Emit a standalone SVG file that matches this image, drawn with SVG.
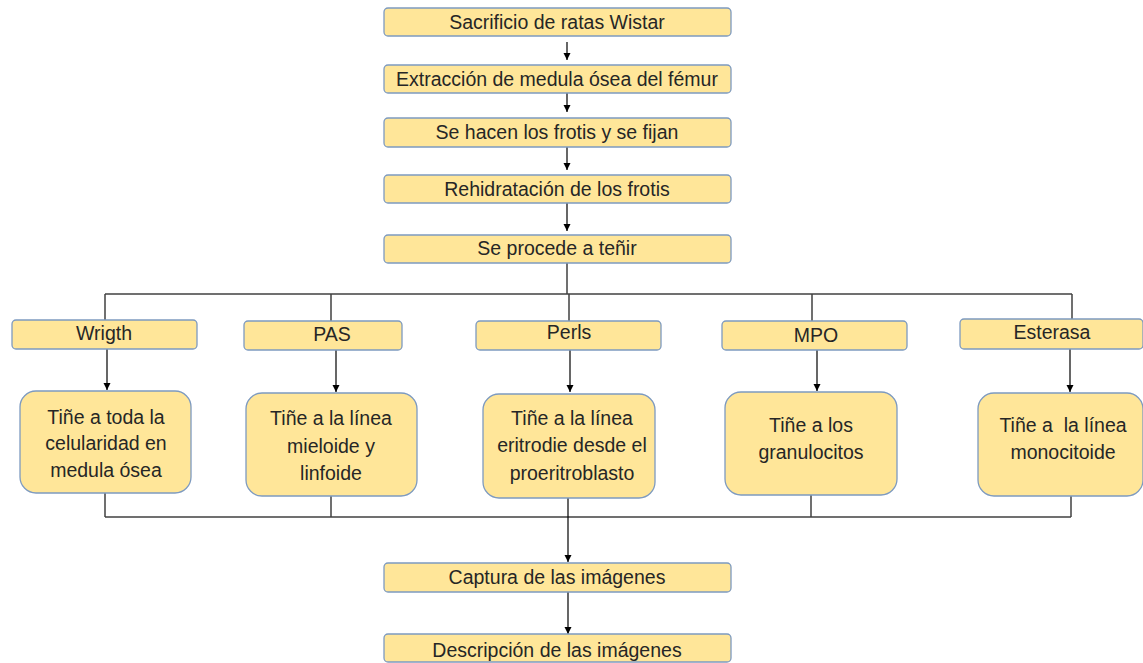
<svg xmlns="http://www.w3.org/2000/svg" width="1143" height="663" viewBox="0 0 1143 663">
<defs>
<marker id="ah" markerWidth="8" markerHeight="8" refX="7" refY="4" orient="auto" markerUnits="userSpaceOnUse">
<path d="M0,0.5 L7,4 L0,7.5 Z" fill="#000"/>
</marker>
<style>
.b{fill:#FFE699;stroke:#7D9AC0;stroke-width:1.3}
.t{font-family:"Liberation Sans",Arial,sans-serif;font-size:19.5px;fill:#262626;text-anchor:middle;white-space:pre}
.c{fill:none;stroke:#000;stroke-width:1.2}
.bus{fill:none;stroke:#404040;stroke-width:1.5}
</style>
</defs>
<rect width="1143" height="663" fill="#fff"/>
<g id="connectors">
<line class="c" x1="567" y1="42" x2="567" y2="60" marker-end="url(#ah)"/>
<line class="c" x1="567" y1="93" x2="567" y2="112" marker-end="url(#ah)"/>
<line class="c" x1="567" y1="147" x2="567" y2="170" marker-end="url(#ah)"/>
<line class="c" x1="567" y1="203" x2="567" y2="231" marker-end="url(#ah)"/>
<line class="bus" x1="567" y1="263" x2="567" y2="294"/>
<line class="bus" x1="105" y1="294" x2="1072" y2="294"/>
<line class="bus" x1="105" y1="294" x2="105" y2="320"/>
<line class="bus" x1="331" y1="294" x2="331" y2="321"/>
<line class="bus" x1="569" y1="294" x2="569" y2="321"/>
<line class="bus" x1="812" y1="294" x2="812" y2="321"/>
<line class="bus" x1="1072" y1="294" x2="1072" y2="319"/>
<line class="c" x1="107" y1="349" x2="107" y2="390" marker-end="url(#ah)"/>
<line class="c" x1="336" y1="350" x2="336" y2="392" marker-end="url(#ah)"/>
<line class="c" x1="570" y1="350" x2="570" y2="392" marker-end="url(#ah)"/>
<line class="c" x1="817" y1="350" x2="817" y2="391" marker-end="url(#ah)"/>
<line class="c" x1="1070" y1="349" x2="1070" y2="392" marker-end="url(#ah)"/>
<line class="bus" x1="105" y1="493" x2="105" y2="517"/>
<line class="bus" x1="331" y1="496" x2="331" y2="517"/>
<line class="bus" x1="811" y1="495" x2="811" y2="517"/>
<line class="bus" x1="1071" y1="496" x2="1071" y2="517"/>
<line class="bus" x1="105" y1="517" x2="1071" y2="517"/>
<line class="c" x1="568" y1="498" x2="568" y2="562" marker-end="url(#ah)"/>
<line class="c" x1="568" y1="592" x2="568" y2="634" marker-end="url(#ah)"/>
</g>
<g id="n1"><rect class="b" x="384" y="8" width="347" height="28" rx="4"/><text class="t" x="557" y="29">Sacrificio de ratas Wistar</text></g>
<g id="n2"><rect class="b" x="384" y="65" width="347" height="28" rx="4"/><text class="t" x="557" y="86">Extracción de medula ósea del fémur</text></g>
<g id="n3"><rect class="b" x="384" y="118" width="347" height="29" rx="4"/><text class="t" x="557" y="139">Se hacen los frotis y se fijan</text></g>
<g id="n4"><rect class="b" x="384" y="175" width="347" height="28" rx="4"/><text class="t" x="557" y="196">Rehidratación de los frotis</text></g>
<g id="n5"><rect class="b" x="384" y="235" width="347" height="28" rx="4"/><text class="t" x="557" y="255">Se procede a teñir</text></g>
<g id="wrigth"><rect class="b" x="12" y="320" width="185" height="29" rx="4"/><text class="t" x="104" y="340">Wrigth</text></g>
<g id="pas"><rect class="b" x="244" y="321" width="158" height="29" rx="4"/><text class="t" x="332" y="341">PAS</text></g>
<g id="perls"><rect class="b" x="476" y="321" width="185" height="29" rx="4"/><text class="t" x="569" y="339">Perls</text></g>
<g id="mpo"><rect class="b" x="722" y="321" width="185" height="29" rx="4"/><text class="t" x="816" y="342">MPO</text></g>
<g id="esterasa"><rect class="b" x="960" y="319" width="183" height="30" rx="4"/><text class="t" x="1052" y="339">Esterasa</text></g>
<g id="d1"><rect class="b" x="20" y="391" width="171" height="102" rx="16"/><text class="t" x="106" y="424">Tiñe a toda la</text><text class="t" x="106" y="450">celularidad en</text><text class="t" x="106" y="477">medula ósea</text></g>
<g id="d2"><rect class="b" x="246" y="393" width="171" height="103" rx="16"/><text class="t" x="331" y="425">Tiñe a la línea</text><text class="t" x="331" y="453">mieloide y</text><text class="t" x="331" y="480">linfoide</text></g>
<g id="d3"><rect class="b" x="483" y="394" width="172" height="104" rx="16"/><text class="t" x="572" y="425">Tiñe a la línea</text><text class="t" x="572" y="452">eritrodie desde el</text><text class="t" x="572" y="480">proeritroblasto</text></g>
<g id="d4"><rect class="b" x="725" y="392" width="172" height="103" rx="16"/><text class="t" x="811" y="432">Tiñe a los</text><text class="t" x="811" y="459">granulocitos</text></g>
<g id="d5"><rect class="b" x="978" y="393" width="165" height="103" rx="16"/><text class="t" x="1063" y="432">Tiñe a  la línea</text><text class="t" x="1063" y="459">monocitoide</text></g>
<g id="n6"><rect class="b" x="384" y="563" width="347" height="29" rx="4"/><text class="t" x="557" y="584">Captura de las imágenes</text></g>
<g id="n7"><rect class="b" x="384" y="634" width="347" height="28" rx="4"/><text class="t" x="557" y="657">Descripción de las imágenes</text></g>
</svg>
